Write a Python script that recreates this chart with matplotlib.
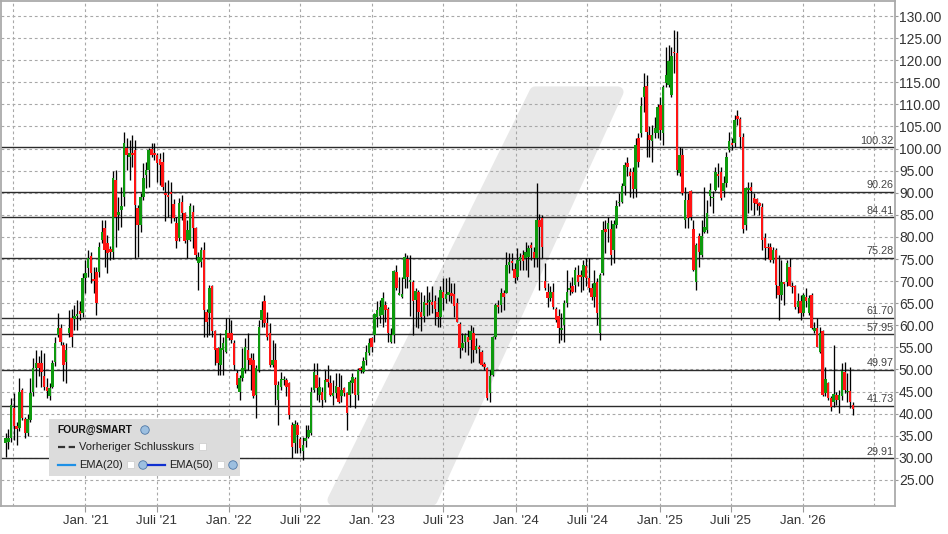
import matplotlib
matplotlib.use("Agg")
import matplotlib.pyplot as plt
import matplotlib.dates as mdates
import pandas as pd
import numpy as np
from matplotlib.patches import Rectangle, Polygon, Ellipse
from matplotlib.lines import Line2D

plt.rcParams['font.family'] = ['Liberation Sans', 'DejaVu Sans']

# ---------------- data (weekly candles, FOUR) ----------------
start_date = "2020-06-12"

opens = [
    33.3, 33.6, 34.4, 41.2, 37.1, 36.7, 45.4, 38.7, 35.7, 38.6,
    45.0, 50.3, 51.4, 51.5, 48.5, 46.1, 43.9, 46.1, 51.8, 57.8,
    59.3, 55.6, 51.8, 58.2, 61.6, 61.5, 62.0, 63.3, 62.7, 70.6,
    72.9, 75.7, 70.4, 72.1, 72.1, 79.3, 82.0, 78.6, 77.3, 76.7,
    92.9, 85.0, 86.0, 89.1, 100.1, 98.0, 98.9, 99.7, 86.5, 82.7,
    89.1, 94.0, 95.2, 99.8, 98.9, 98.5, 97.6, 97.0, 90.0, 89.5,
    90.2, 87.5, 83.1, 79.7, 88.0, 85.4, 79.3, 79.3, 85.7, 82.0,
    74.0, 74.4, 77.0, 63.1, 62.7, 68.8, 58.6, 54.8, 51.0, 54.4,
    54.0, 58.2, 58.2, 55.9, 49.1, 45.0, 48.0, 49.9, 54.4, 52.5,
    52.2, 44.2, 49.9, 61.2, 65.4, 60.5, 58.2, 51.0, 52.2, 43.1,
    46.1, 47.6, 47.6, 46.9, 37.4, 33.4, 37.4, 34.2, 31.6, 33.7,
    34.8, 35.6, 45.4, 48.8, 44.2, 45.0, 43.1, 47.8, 46.9, 44.0,
    44.6, 46.1, 44.0, 45.9, 44.6, 44.2, 46.9, 47.8, 44.2, 50.3,
    49.5, 52.2, 53.7, 57.2, 57.8, 61.8, 62.0, 62.3, 64.7, 63.8,
    56.3, 57.8, 72.0, 66.9, 66.5, 70.4, 74.9, 69.9, 69.9, 65.7,
    67.6, 63.1, 62.0, 65.1, 65.3, 65.3, 65.4, 63.1, 61.9, 67.6,
    65.9, 66.9, 67.3, 67.1, 65.0, 60.4, 54.8, 56.3, 57.3, 56.7,
    58.2, 54.4, 55.2, 54.0, 51.2, 50.3, 44.6, 48.8, 57.4, 64.6,
    64.6, 67.2, 67.4, 73.7, 74.6, 72.7, 71.0, 74.6, 75.8, 75.2,
    75.4, 78.2, 76.7, 75.2, 83.8, 84.2, 70.0, 67.6, 66.1, 67.6,
    63.6, 62.0, 58.9, 60.1, 65.0, 68.0, 68.8, 69.1, 71.4, 71.4,
    71.0, 73.4, 70.6, 68.4, 66.5, 69.9, 58.3, 71.8, 81.9, 81.9,
    81.9, 77.0, 82.7, 87.6, 88.0, 91.5, 96.8, 94.8, 94.8, 90.8,
    102.3, 103.5, 111.6, 114.2, 103.1, 101.6, 103.5, 103.5, 109.9, 103.5,
    114.8, 114.4, 112.1, 121.9, 121.6, 94.4, 98.5, 83.8, 88.4, 90.3,
    81.9, 69.9, 80.1, 75.9, 81.2, 81.6, 89.3, 88.7, 90.6, 94.3,
    94.8, 90.3, 92.1, 99.7, 101.2, 101.2, 107.4, 106.8, 102.7, 82.7,
    90.6, 91.2, 88.7, 88.5, 87.6, 86.7, 79.7, 77.8, 77.8, 74.8,
    77.0, 68.8, 66.9, 69.7, 69.9, 73.3, 68.9, 68.8, 64.2, 65.4,
    62.7, 66.5, 62.7, 66.9, 58.6, 59.3, 54.0, 58.6, 44.6, 46.9,
    43.5, 42.7, 44.2, 43.1, 43.9, 49.5, 44.8, 45.2, 41.9,
]

highs = [
    35.6, 36.5, 43.5, 44.6, 38.0, 48.0, 45.8, 39.2, 40.0, 48.0,
    52.5, 54.4, 53.0, 54.4, 53.7, 48.0, 46.9, 52.2, 57.4, 62.7,
    60.4, 56.3, 55.9, 63.5, 63.8, 64.5, 65.7, 65.4, 71.8, 74.8,
    77.0, 76.7, 73.3, 73.3, 78.9, 83.8, 83.8, 80.4, 78.0, 95.0,
    95.2, 89.1, 91.4, 103.8, 102.3, 101.9, 103.1, 101.9, 87.2, 89.9,
    96.7, 97.0, 100.1, 101.2, 101.2, 98.9, 98.9, 99.3, 92.5, 92.9,
    92.5, 88.5, 84.6, 88.7, 89.5, 85.7, 83.8, 87.6, 87.2, 82.3,
    76.7, 77.8, 78.9, 63.8, 69.1, 69.1, 58.9, 55.2, 58.2, 57.4,
    61.6, 61.6, 61.2, 56.7, 49.9, 48.8, 54.8, 57.1, 58.2, 53.7,
    53.7, 51.0, 61.2, 65.4, 66.9, 63.1, 60.5, 56.7, 55.9, 47.3,
    49.5, 48.5, 48.0, 47.2, 38.2, 38.6, 38.2, 34.8, 34.8, 37.4,
    37.4, 46.1, 51.4, 51.4, 48.4, 46.1, 49.9, 51.0, 48.8, 47.6,
    49.1, 49.1, 48.8, 46.1, 45.0, 47.6, 49.1, 48.2, 50.3, 50.7,
    52.9, 55.5, 57.1, 57.4, 62.7, 65.4, 65.7, 67.6, 65.4, 64.2,
    59.3, 72.5, 73.7, 71.0, 71.0, 76.3, 75.9, 75.9, 70.3, 68.4,
    68.0, 67.6, 66.9, 68.8, 67.6, 68.8, 66.9, 66.5, 68.8, 70.6,
    70.6, 71.0, 69.5, 69.5, 66.1, 60.8, 58.2, 58.2, 59.0, 60.1,
    59.7, 57.1, 55.6, 54.4, 51.8, 50.5, 49.9, 57.6, 65.0, 65.7,
    68.4, 68.0, 76.7, 76.3, 76.3, 74.0, 77.4, 76.3, 77.0, 78.9,
    78.2, 78.9, 77.8, 92.1, 85.3, 85.0, 74.0, 69.5, 68.8, 69.5,
    64.2, 63.8, 62.7, 65.7, 72.5, 69.9, 71.0, 73.3, 73.7, 72.5,
    74.8, 75.2, 75.2, 69.5, 72.5, 70.6, 71.8, 83.5, 83.8, 84.6,
    83.8, 83.8, 88.4, 89.9, 92.1, 97.0, 98.2, 95.5, 95.9, 102.3,
    103.5, 111.7, 117.0, 116.6, 105.0, 105.3, 107.2, 110.2, 111.7, 114.4,
    123.1, 123.5, 123.1, 126.8, 126.5, 100.4, 100.1, 91.4, 89.9, 90.6,
    83.8, 78.6, 80.8, 83.8, 91.4, 88.4, 92.1, 90.3, 95.9, 96.7,
    95.9, 93.7, 99.3, 103.8, 102.3, 107.6, 108.7, 107.2, 103.5, 91.4,
    92.5, 92.5, 89.9, 88.7, 88.0, 87.6, 80.8, 78.6, 78.6, 77.8,
    77.4, 75.9, 74.8, 69.9, 74.8, 75.2, 69.9, 69.1, 67.2, 66.9,
    67.2, 68.4, 66.9, 67.2, 60.8, 61.6, 59.7, 58.9, 50.6, 47.2,
    43.9, 55.6, 45.0, 45.4, 51.4, 51.8, 49.1, 50.6, 42.7,
]

lows = [
    30.3, 32.0, 33.5, 34.0, 33.0, 36.0, 38.5, 34.4, 35.0, 38.0,
    44.0, 46.1, 48.5, 46.1, 45.4, 43.5, 43.1, 45.8, 50.7, 57.4,
    55.6, 47.3, 46.9, 57.4, 55.2, 59.0, 58.9, 61.2, 61.9, 67.2,
    71.0, 69.5, 67.2, 62.3, 71.0, 78.6, 73.3, 71.8, 74.8, 75.0,
    77.8, 81.6, 82.3, 86.9, 95.2, 92.9, 95.9, 75.2, 75.5, 81.2,
    88.3, 91.0, 91.4, 98.2, 97.4, 92.5, 91.8, 90.6, 83.5, 84.6,
    83.1, 83.5, 77.4, 79.0, 83.8, 78.6, 75.2, 79.0, 77.4, 74.8,
    68.0, 73.3, 57.4, 57.4, 57.8, 57.4, 51.0, 48.8, 48.8, 48.8,
    53.7, 56.7, 55.9, 49.9, 45.8, 43.1, 47.3, 49.1, 49.9, 45.4,
    43.6, 39.0, 49.5, 59.7, 59.7, 56.7, 50.6, 50.6, 42.0, 37.5,
    45.4, 46.5, 43.9, 38.9, 29.9, 31.0, 31.0, 31.0, 29.5, 32.5,
    34.4, 35.2, 45.0, 43.1, 42.7, 41.6, 42.7, 46.1, 43.9, 42.0,
    43.5, 42.3, 42.7, 43.9, 36.3, 41.6, 44.6, 41.2, 43.1, 49.1,
    49.1, 51.0, 53.3, 54.0, 56.3, 59.7, 60.5, 59.7, 60.8, 56.3,
    55.9, 55.9, 68.0, 66.8, 66.1, 68.4, 68.4, 62.0, 57.8, 59.7,
    59.3, 58.6, 60.8, 62.0, 62.3, 62.7, 60.1, 59.7, 59.7, 63.5,
    65.0, 65.4, 65.0, 61.9, 60.8, 52.5, 54.4, 54.0, 53.3, 51.4,
    51.8, 53.7, 51.4, 50.7, 49.9, 43.1, 42.7, 48.6, 57.0, 62.7,
    63.1, 63.5, 67.2, 71.8, 72.5, 69.5, 70.3, 72.5, 72.5, 72.5,
    71.0, 74.8, 73.3, 73.3, 68.0, 75.2, 68.0, 64.2, 65.4, 63.8,
    60.8, 55.9, 56.7, 56.3, 64.2, 66.9, 67.2, 67.6, 68.8, 67.6,
    68.0, 68.8, 67.6, 65.7, 64.2, 60.1, 56.6, 71.4, 76.3, 78.9,
    73.7, 74.0, 82.0, 86.9, 87.6, 89.5, 93.7, 89.1, 88.7, 89.1,
    95.9, 102.7, 108.3, 98.2, 98.2, 97.0, 102.3, 102.3, 101.9, 100.8,
    114.0, 114.0, 111.7, 117.0, 94.0, 93.7, 89.6, 82.0, 82.0, 83.8,
    72.3, 68.0, 73.3, 75.5, 80.8, 80.8, 86.9, 85.4, 90.3, 91.4,
    88.4, 89.1, 91.4, 99.3, 99.7, 100.4, 105.3, 100.1, 80.8, 81.6,
    85.4, 86.1, 85.0, 86.1, 85.0, 77.0, 74.8, 75.2, 74.4, 74.0,
    66.1, 61.2, 65.7, 64.6, 68.8, 68.8, 67.3, 63.8, 62.7, 61.2,
    62.0, 64.2, 62.3, 59.1, 58.2, 55.0, 53.7, 43.9, 43.9, 43.1,
    40.5, 41.6, 42.0, 40.1, 43.1, 44.6, 42.7, 41.2, 39.7,
]

closes = [
    34.4, 34.6, 42.0, 37.1, 36.5, 45.0, 39.0, 35.6, 38.7, 44.6,
    50.3, 51.4, 50.3, 49.5, 46.1, 45.2, 45.8, 51.5, 55.9, 59.3,
    56.3, 51.0, 54.4, 59.3, 57.4, 62.0, 62.6, 62.5, 70.6, 71.8,
    75.2, 71.8, 70.1, 65.1, 77.8, 81.2, 77.0, 76.3, 76.7, 93.3,
    84.6, 85.7, 87.0, 101.2, 98.6, 98.9, 98.6, 87.2, 82.7, 89.1,
    93.3, 95.2, 99.7, 98.5, 98.5, 96.7, 96.3, 91.4, 89.5, 89.1,
    89.7, 84.2, 79.0, 87.6, 85.4, 79.0, 81.6, 86.9, 82.0, 75.9,
    75.5, 77.0, 63.5, 60.8, 68.4, 58.6, 54.4, 51.4, 54.8, 55.9,
    58.9, 57.1, 56.7, 51.0, 46.5, 48.0, 50.3, 55.2, 52.2, 51.0,
    43.9, 50.3, 59.7, 63.5, 60.5, 57.4, 51.0, 52.2, 46.5, 46.5,
    47.8, 47.9, 46.1, 39.7, 32.5, 37.7, 35.2, 32.2, 32.9, 34.4,
    36.3, 45.0, 49.5, 45.7, 46.1, 43.1, 47.6, 47.2, 44.2, 44.6,
    46.3, 42.7, 45.4, 44.6, 40.2, 47.2, 48.4, 44.2, 49.9, 49.9,
    52.0, 54.0, 55.9, 55.2, 62.6, 63.5, 64.2, 66.1, 63.5, 58.2,
    57.8, 72.4, 68.4, 67.2, 67.1, 75.5, 71.0, 70.3, 65.6, 67.8,
    63.1, 61.8, 65.3, 64.7, 65.7, 64.6, 63.6, 61.9, 68.0, 66.1,
    67.1, 67.6, 66.7, 64.4, 60.8, 54.8, 55.9, 57.8, 56.3, 58.6,
    54.4, 55.3, 54.6, 51.0, 50.6, 43.5, 48.5, 57.4, 64.6, 64.1,
    67.4, 66.5, 73.7, 74.4, 74.2, 70.6, 74.8, 75.4, 74.6, 76.7,
    77.4, 77.4, 75.2, 83.8, 82.3, 77.8, 68.4, 66.1, 67.6, 64.2,
    61.2, 59.3, 59.3, 65.0, 67.6, 68.4, 67.6, 72.5, 69.9, 71.0,
    73.7, 70.6, 68.4, 66.5, 69.5, 62.8, 71.4, 81.6, 81.2, 83.1,
    75.9, 82.9, 86.9, 88.0, 91.5, 96.3, 95.8, 93.8, 90.8, 100.8,
    97.0, 109.6, 114.0, 103.8, 101.9, 103.1, 104.6, 109.3, 104.2, 114.0,
    116.6, 119.9, 120.9, 121.6, 95.2, 98.5, 89.9, 88.4, 84.2, 84.6,
    72.5, 78.2, 76.7, 80.1, 82.3, 85.4, 90.6, 89.1, 94.8, 93.7,
    88.7, 92.1, 98.2, 101.6, 100.8, 106.5, 106.8, 102.7, 81.9, 91.0,
    91.0, 90.5, 87.6, 87.5, 86.9, 79.3, 77.4, 77.4, 74.8, 77.0,
    69.1, 66.9, 69.9, 69.4, 74.0, 68.9, 68.6, 64.2, 65.4, 62.7,
    66.9, 65.4, 66.1, 59.3, 59.3, 55.2, 58.2, 44.2, 47.8, 43.5,
    41.6, 44.5, 43.1, 44.2, 49.7, 45.4, 45.2, 42.7, 41.0,
]

levels = [100.32, 90.26, 84.41, 75.28, 61.70, 57.95, 49.97, 41.73, 29.91]
level_labels = ["100.32", "90.26", "84.41", "75.28", "61.70", "57.95", "49.97", "41.73", "29.91"]

y_ticks = [25, 30, 35, 40, 45, 50, 55, 60, 65, 70, 75, 80, 85, 90, 95, 100, 105, 110, 115, 120, 125, 130]
x_grid_dates = ["2020-07-01", "2021-01-01", "2021-07-01", "2022-01-01", "2022-07-01", "2023-01-01",
                "2023-07-01", "2024-01-01", "2024-07-01", "2025-01-01", "2025-07-01", "2026-01-01", "2026-07-01"]
x_tick_dates = ["2021-01-01", "2021-07-01", "2022-01-01", "2022-07-01", "2023-01-01", "2023-07-01",
                "2024-01-01", "2024-07-01", "2025-01-01", "2025-07-01", "2026-01-01"]
x_tick_labels = ["Jan. '21", "Juli '21", "Jan. '22", "Juli '22", "Jan. '23", "Juli '23",
                 "Jan. '24", "Juli '24", "Jan. '25", "Juli '25", "Jan. '26"]

legend_title = "FOUR@SMART"
legend_items = ["Vorheriger Schlusskurs", "EMA(20)", "EMA(50)"]

# ---------------- figure ----------------
W, H = 948, 534
fig = plt.figure(figsize=(W / 100, H / 100), dpi=100)
fig.patch.set_facecolor("white")

def fx(x):
    return x / W

def fy(y):
    return 1 - y / H

ax = fig.add_axes([fx(1), fy(506), (895 - 1) / W, (506 - 1) / H])
ax.set_facecolor("white")

# watermark (light grey slanted logo) in figure pixel coords
wm_color = "#e8e8e8"
wm = Polygon([(fx(535), fy(92)), (fx(618), fy(92)), (fx(432), fy(500)), (fx(333), fy(500))],
             closed=True, transform=fig.transFigure, facecolor=wm_color, edgecolor=wm_color,
             linewidth=8, joinstyle="round", zorder=0.5)
ax.add_artist(wm)
wm.set_transform(fig.transFigure)

dates = pd.date_range(start_date, periods=len(closes), freq="7D")
xd = mdates.date2num(dates)
o = np.array(opens); h = np.array(highs); l = np.array(lows); c = np.array(closes)

# grid
for d in x_grid_dates:
    ax.axvline(mdates.date2num(pd.Timestamp(d)), color="#a8a8a8", lw=0.8, ls=(0, (2.5, 2.5)), zorder=1)
for v in y_ticks:
    ax.axhline(v, color="#a8a8a8", lw=0.8, ls=(0, (2.5, 2.5)), zorder=1)

# support / resistance levels
for lv, lab in zip(levels, level_labels):
    ax.axhline(lv, color="#2b2b2b", lw=1.0, zorder=2)
    ax.text(0.9985, lv + 0.35, lab, transform=ax.get_yaxis_transform(), ha="right", va="bottom",
            fontsize=7.8, color="#444444", zorder=3)

# candles
up = c >= o
ax.vlines(xd, l, h, color="black", lw=0.95, zorder=4)
body_w = 6.4
ax.bar(xd[up], (c - o)[up], bottom=o[up], width=body_w, color="#0e990e", linewidth=0, zorder=5)
ax.bar(xd[~up], (o - c)[~up], bottom=c[~up], width=body_w, color="#ff1414", linewidth=0, zorder=5)

ax.set_xlim(mdates.date2num(pd.Timestamp("2020-05-31")), mdates.date2num(pd.Timestamp("2026-08-23")))
ax.set_ylim(19.1, 133.4)

ax.yaxis.tick_right()
ax.set_yticks(y_ticks)
ax.set_yticklabels([f"{v:.2f}" for v in y_ticks], fontsize=10, color="#333333")
ax.set_xticks([mdates.date2num(pd.Timestamp(d)) for d in x_tick_dates])
ax.set_xticklabels(x_tick_labels, fontsize=9.5, color="#333333")
ax.tick_params(axis="y", length=2, color="#999999", pad=0.8)
ax.tick_params(axis="x", length=4, color="#999999", pad=2.5)

for s in ax.spines.values():
    s.set_color("#aaaaaa")
    s.set_linewidth(1.3)

# ---------------- legend box ----------------
fig.patches.append(Rectangle((fx(49), fy(476)), (240 - 49) / W, (476 - 419) / H,
                             transform=fig.transFigure, facecolor="#dcdcdc", edgecolor="none", zorder=10))

def icon(x, y):
    fig.patches.append(Ellipse((fx(x), fy(y)), 8.5 / W, 8.5 / H, transform=fig.transFigure,
                               facecolor="#9cbfe0", edgecolor="#4f78a6", lw=0.6, zorder=11))

def checkbox(x, y):
    fig.patches.append(Rectangle((fx(x), fy(y + 7)), 7 / W, 7 / H, transform=fig.transFigure,
                                 facecolor="white", edgecolor="#d0d0d0", lw=0.6, zorder=11))

fig.text(fx(57), fy(430), legend_title, fontsize=7.4, fontweight="bold", color="#111111",
         va="center", ha="left", zorder=12)
icon(145, 430)

fig.lines.append(Line2D([fx(58), fx(75)], [fy(447), fy(447)], transform=fig.transFigure,
                        color="#333333", lw=1.6, ls=(0, (3.2, 1.6)), zorder=12))
fig.text(fx(79), fy(447), legend_items[0], fontsize=8, color="#222222", va="center", ha="left", zorder=12)
checkbox(199, 443)

fig.lines.append(Line2D([fx(58), fx(75)], [fy(465), fy(465)], transform=fig.transFigure,
                        color="#1e90e6", lw=1.6, zorder=12))
fig.text(fx(79), fy(465), legend_items[1], fontsize=8, color="#222222", va="center", ha="left", zorder=12)
checkbox(127, 461)
icon(143, 465)
fig.lines.append(Line2D([fx(148), fx(165)], [fy(465), fy(465)], transform=fig.transFigure,
                        color="#1030d0", lw=1.6, zorder=12))
fig.text(fx(169), fy(465), legend_items[2], fontsize=8, color="#222222", va="center", ha="left", zorder=12)
checkbox(217, 461)
icon(233, 465)

fig.savefig("out.png", dpi=100, facecolor="white")
